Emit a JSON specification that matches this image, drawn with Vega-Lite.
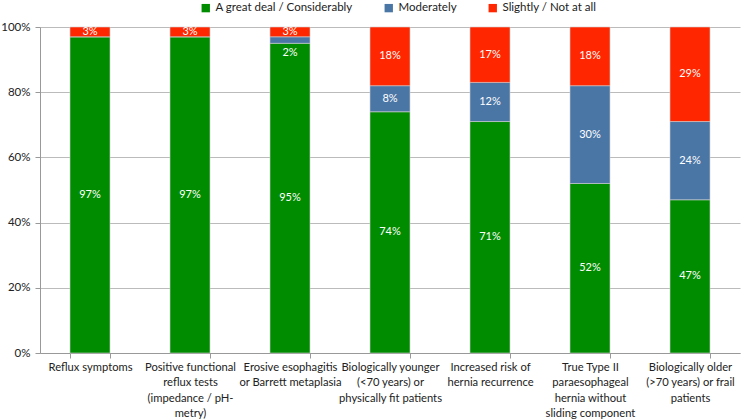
{
  "$schema": "https://vega.github.io/schema/vega-lite/v6.json",
  "width": 741,
  "height": 419,
  "autosize": {"type": "fit", "contains": "padding"},
  "padding": {"left": 0, "top": 21, "right": 1, "bottom": 0},
  "config": {
    "font": "Lato",
    "view": {"stroke": null},
    "axis": {"labelFont": "Lato", "labelColor": "#222", "labelFontSize": 11.5}
  },
  "data": {
    "values": [
      {"category": "Reflux symptoms", "series": "A great deal / Considerably", "value": 97},
      {"category": "Reflux symptoms", "series": "Moderately", "value": 0},
      {"category": "Reflux symptoms", "series": "Slightly / Not at all", "value": 3},
      {"category": "Positive functional|reflux tests|(impedance / pH-|metry)", "series": "A great deal / Considerably", "value": 97},
      {"category": "Positive functional|reflux tests|(impedance / pH-|metry)", "series": "Moderately", "value": 0},
      {"category": "Positive functional|reflux tests|(impedance / pH-|metry)", "series": "Slightly / Not at all", "value": 3},
      {"category": "Erosive esophagitis|or Barrett metaplasia", "series": "A great deal / Considerably", "value": 95},
      {"category": "Erosive esophagitis|or Barrett metaplasia", "series": "Moderately", "value": 2},
      {"category": "Erosive esophagitis|or Barrett metaplasia", "series": "Slightly / Not at all", "value": 3},
      {"category": "Biologically younger|(<70 years) or|physically fit patients", "series": "A great deal / Considerably", "value": 74},
      {"category": "Biologically younger|(<70 years) or|physically fit patients", "series": "Moderately", "value": 8},
      {"category": "Biologically younger|(<70 years) or|physically fit patients", "series": "Slightly / Not at all", "value": 18},
      {"category": "Increased risk of|hernia recurrence", "series": "A great deal / Considerably", "value": 71},
      {"category": "Increased risk of|hernia recurrence", "series": "Moderately", "value": 12},
      {"category": "Increased risk of|hernia recurrence", "series": "Slightly / Not at all", "value": 17},
      {"category": "True Type II|paraesophageal|hernia without|sliding component", "series": "A great deal / Considerably", "value": 52},
      {"category": "True Type II|paraesophageal|hernia without|sliding component", "series": "Moderately", "value": 30},
      {"category": "True Type II|paraesophageal|hernia without|sliding component", "series": "Slightly / Not at all", "value": 18},
      {"category": "Biologically older|(>70 years) or frail|patients", "series": "A great deal / Considerably", "value": 47},
      {"category": "Biologically older|(>70 years) or frail|patients", "series": "Moderately", "value": 24},
      {"category": "Biologically older|(>70 years) or frail|patients", "series": "Slightly / Not at all", "value": 29}
    ]
  },
  "transform": [
    {"calculate": "indexof(['A great deal / Considerably','Moderately','Slightly / Not at all'], datum.series)", "as": "ord"},
    {"stack": "value", "groupby": ["category"], "sort": [{"field": "ord", "order": "ascending"}], "as": ["v0", "v1"]},
    {"calculate": "datum.series == 'Moderately' && datum.value < 4 ? datum.v0 - 3 : (datum.v0 + datum.v1) / 2", "as": "mid"},
    {"calculate": "datum.value + '%'", "as": "label"}
  ],
  "encoding": {
    "x": {
      "field": "category",
      "type": "nominal",
      "sort": null,
      "title": null,
      "scale": {"paddingInner": 0.6, "paddingOuter": 0.3},
      "axis": {
        "labelAngle": 0,
        "labelExpr": "split(datum.label, '|')",
        "labelLimit": 300,
        "labelPadding": 3,
        "labelLineHeight": 15.6,
        "labelFontSize": 11.2,
        "tickBand": "extent",
        "tickColor": "#999",
        "tickSize": 5,
        "domainColor": "#999",
        "grid": false
      }
    }
  },
  "layer": [
    {
      "mark": {"type": "bar", "stroke": "#cfcfcf", "strokeWidth": 0.6},
      "encoding": {
        "y": {
          "field": "v0",
          "type": "quantitative",
          "title": null,
          "scale": {"domain": [0, 100]},
          "axis": {
            "values": [0, 20, 40, 60, 80, 100],
            "labelExpr": "datum.value + '%'",
            "gridColor": "#bbb",
            "domainColor": "#999",
            "tickColor": "#999",
            "tickSize": 5,
            "labelPadding": 5
          }
        },
        "y2": {"field": "v1"},
        "color": {
          "field": "series",
          "type": "nominal",
          "scale": {
            "domain": ["A great deal / Considerably", "Moderately", "Slightly / Not at all"],
            "range": ["#008c00", "#4a76a6", "#ff2600"]
          },
          "legend": {
            "orient": "none",
            "legendX": 160,
            "legendY": -25,
            "direction": "horizontal",
            "title": null,
            "symbolType": "square",
            "symbolSize": 70,
            "symbolStrokeWidth": 0,
            "labelFontSize": 11.5,
            "labelColor": "#222",
            "columnPadding": 30,
            "padding": 0
          }
        }
      }
    },
    {
      "transform": [{"filter": "datum.value > 0"}],
      "mark": {"type": "text", "color": "white", "fontSize": 11, "baseline": "middle"},
      "encoding": {
        "y": {"field": "mid", "type": "quantitative"},
        "text": {"field": "label", "type": "nominal"},
        "detail": {"field": "series"}
      }
    }
  ]
}
